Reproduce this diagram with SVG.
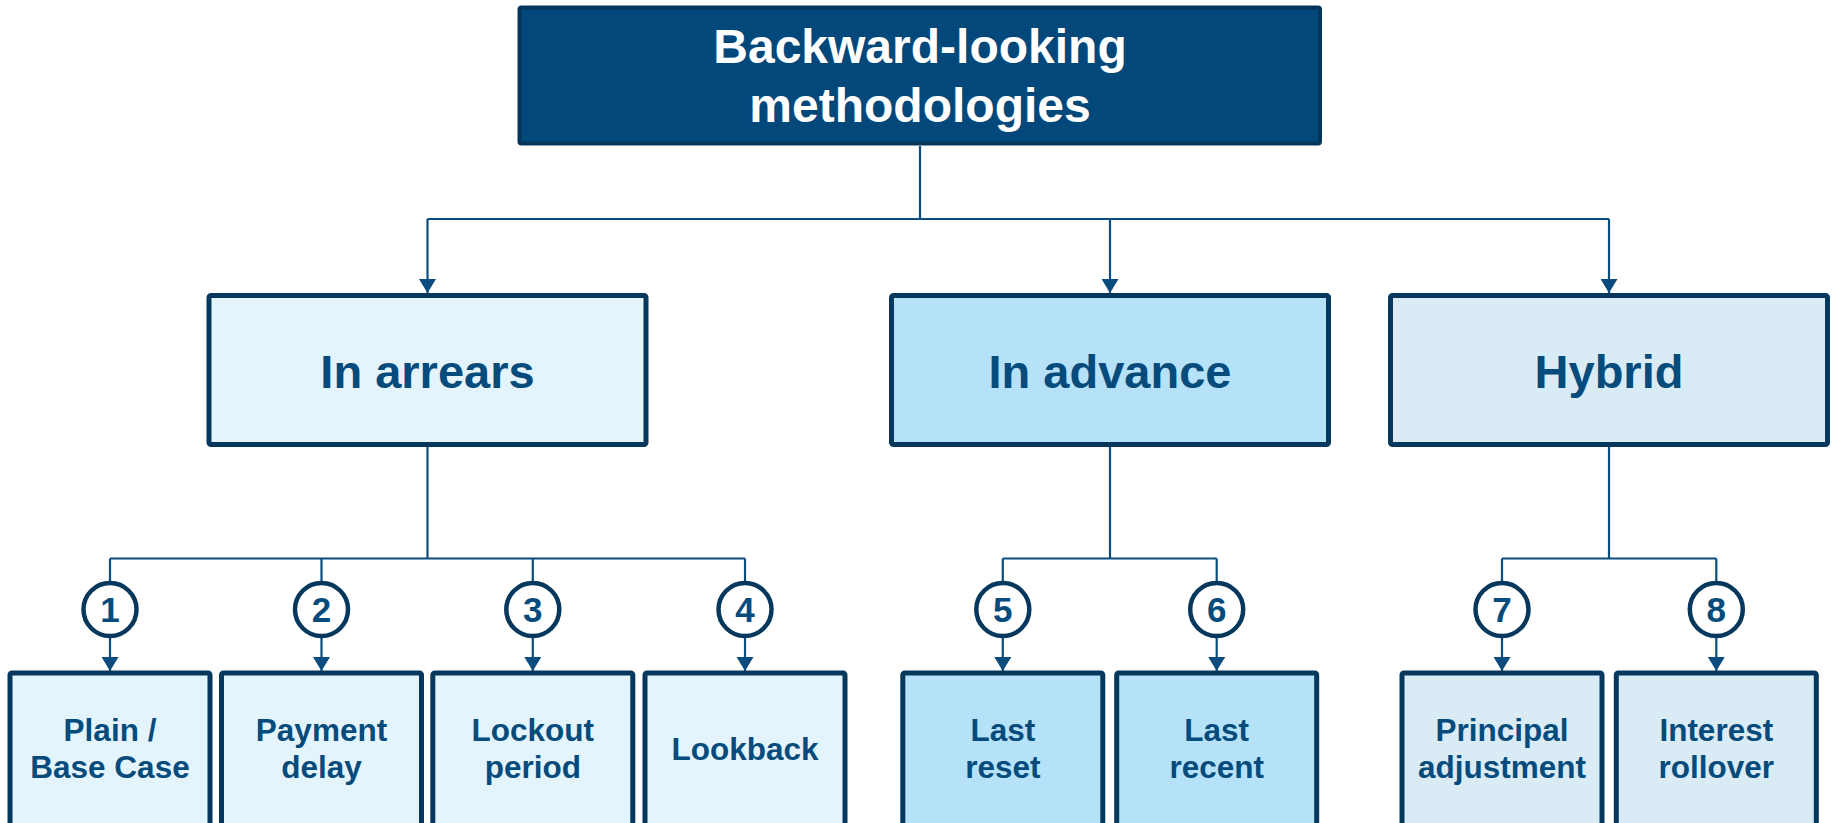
<svg xmlns="http://www.w3.org/2000/svg" width="1833" height="823" viewBox="0 0 1833 823">
<style>
  .conn { fill: none; stroke: #0A4C7E; stroke-width: 2.2; }
  .box { stroke: #06375C; stroke-width: 5; }
  .l1 { fill: #E4F4FC; }
  .l2 { fill: #B5E2F8; }
  .l3 { fill: #D9ECF6; }
  .t { font-family: "Liberation Sans", Arial, sans-serif; font-weight: bold; fill: #054B7C; text-anchor: middle; }
  .mid { font-size: 47px; }
  .small { font-size: 31.5px; }
  .num { font-size: 35px; }
  .circ { fill: #FFFFFF; stroke: #06375C; stroke-width: 4.5; }
</style>
<defs>
  <marker id="arr" viewBox="0 0 14 17" refX="14" refY="8.5" markerWidth="14" markerHeight="17" markerUnits="userSpaceOnUse" orient="auto">
    <path d="M0,0 L14,8.5 L0,17 Z" fill="#0A4C7E"/>
  </marker>
</defs>

<g id="connectors">
  <path class="conn" d="M920,146 V219"/>
  <path class="conn" d="M427.5,219 H1609"/>
  <path class="conn" d="M427.5,219 V293" marker-end="url(#arr)"/>
  <path class="conn" d="M1110,219 V293" marker-end="url(#arr)"/>
  <path class="conn" d="M1609,219 V293" marker-end="url(#arr)"/>

  <path class="conn" d="M427.5,447 V558.5"/>
  <path class="conn" d="M110,558.5 H745"/>
  <path class="conn" d="M110,558.5 V582"/>
  <path class="conn" d="M321.5,558.5 V582"/>
  <path class="conn" d="M532.8,558.5 V582"/>
  <path class="conn" d="M745,558.5 V582"/>

  <path class="conn" d="M1110,447 V558.5"/>
  <path class="conn" d="M1002.8,558.5 H1216.7"/>
  <path class="conn" d="M1002.8,558.5 V582"/>
  <path class="conn" d="M1216.7,558.5 V582"/>

  <path class="conn" d="M1609,447 V558.5"/>
  <path class="conn" d="M1502,558.5 H1716.3"/>
  <path class="conn" d="M1502,558.5 V582"/>
  <path class="conn" d="M1716.3,558.5 V582"/>

  <path class="conn" d="M110,637 V671" marker-end="url(#arr)"/>
  <path class="conn" d="M321.5,637 V671" marker-end="url(#arr)"/>
  <path class="conn" d="M532.8,637 V671" marker-end="url(#arr)"/>
  <path class="conn" d="M745,637 V671" marker-end="url(#arr)"/>
  <path class="conn" d="M1002.8,637 V671" marker-end="url(#arr)"/>
  <path class="conn" d="M1216.7,637 V671" marker-end="url(#arr)"/>
  <path class="conn" d="M1502,637 V671" marker-end="url(#arr)"/>
  <path class="conn" d="M1716.3,637 V671" marker-end="url(#arr)"/>
</g>

<g id="root">
  <rect x="519.5" y="7.5" width="800.5" height="136" rx="2" fill="#02487A" stroke="#06355A" stroke-width="4"/>
  <text class="t" x="920" y="63" font-size="48" style="fill:#FFFFFF">Backward-looking</text>
  <text class="t" x="920" y="121.5" font-size="48" style="fill:#FFFFFF">methodologies</text>
</g>

<g id="in-arrears">
  <rect class="box l1" x="209" y="295.5" width="437" height="149" rx="2"/>
  <text class="t mid" x="427.5" y="388">In arrears</text>
</g>
<g id="in-advance">
  <rect class="box l2" x="891.5" y="295.5" width="437" height="149" rx="2"/>
  <text class="t mid" x="1110" y="388">In advance</text>
</g>
<g id="hybrid">
  <rect class="box l3" x="1390.5" y="295.5" width="437" height="149" rx="2"/>
  <text class="t mid" x="1609" y="388">Hybrid</text>
</g>

<g id="c1"><circle class="circ" cx="110" cy="609.5" r="26.5"/><text class="t num" x="110" y="622">1</text></g>
<g id="c2"><circle class="circ" cx="321.5" cy="609.5" r="26.5"/><text class="t num" x="321.5" y="622">2</text></g>
<g id="c3"><circle class="circ" cx="532.8" cy="609.5" r="26.5"/><text class="t num" x="532.8" y="622">3</text></g>
<g id="c4"><circle class="circ" cx="745" cy="609.5" r="26.5"/><text class="t num" x="745" y="622">4</text></g>
<g id="c5"><circle class="circ" cx="1002.8" cy="609.5" r="26.5"/><text class="t num" x="1002.8" y="622">5</text></g>
<g id="c6"><circle class="circ" cx="1216.7" cy="609.5" r="26.5"/><text class="t num" x="1216.7" y="622">6</text></g>
<g id="c7"><circle class="circ" cx="1502" cy="609.5" r="26.5"/><text class="t num" x="1502" y="622">7</text></g>
<g id="c8"><circle class="circ" cx="1716.3" cy="609.5" r="26.5"/><text class="t num" x="1716.3" y="622">8</text></g>

<g id="plain">
  <rect class="box l1" x="10" y="673" width="200" height="170" rx="2"/>
  <text class="t small" x="110" y="741">Plain /</text>
  <text class="t small" x="110" y="778">Base Case</text>
</g>
<g id="payment-delay">
  <rect class="box l1" x="221.5" y="673" width="200" height="170" rx="2"/>
  <text class="t small" x="321.5" y="741">Payment</text>
  <text class="t small" x="321.5" y="778">delay</text>
</g>
<g id="lockout">
  <rect class="box l1" x="432.8" y="673" width="200" height="170" rx="2"/>
  <text class="t small" x="532.8" y="741">Lockout</text>
  <text class="t small" x="532.8" y="778">period</text>
</g>
<g id="lookback">
  <rect class="box l1" x="645" y="673" width="200" height="170" rx="2"/>
  <text class="t small" x="745" y="760">Lookback</text>
</g>
<g id="last-reset">
  <rect class="box l2" x="902.8" y="673" width="200" height="170" rx="2"/>
  <text class="t small" x="1002.8" y="741">Last</text>
  <text class="t small" x="1002.8" y="778">reset</text>
</g>
<g id="last-recent">
  <rect class="box l2" x="1116.7" y="673" width="200" height="170" rx="2"/>
  <text class="t small" x="1216.7" y="741">Last</text>
  <text class="t small" x="1216.7" y="778">recent</text>
</g>
<g id="principal-adjustment">
  <rect class="box l3" x="1402" y="673" width="200" height="170" rx="2"/>
  <text class="t small" x="1502" y="741">Principal</text>
  <text class="t small" x="1502" y="778">adjustment</text>
</g>
<g id="interest-rollover">
  <rect class="box l3" x="1616.3" y="673" width="200" height="170" rx="2"/>
  <text class="t small" x="1716.3" y="741">Interest</text>
  <text class="t small" x="1716.3" y="778">rollover</text>
</g>
</svg>
